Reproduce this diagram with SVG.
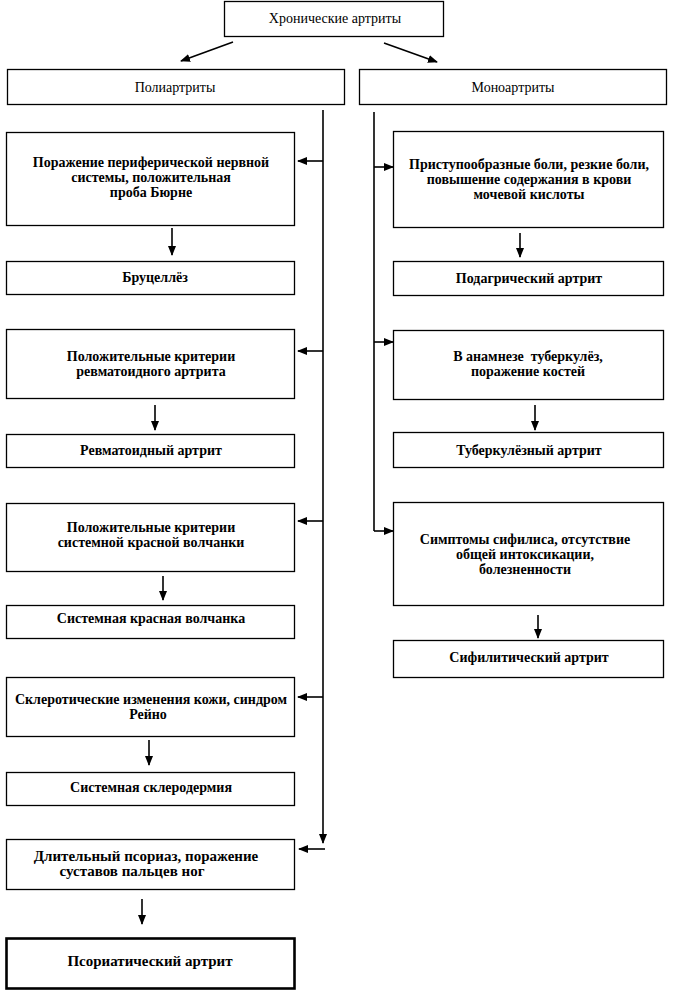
<svg xmlns="http://www.w3.org/2000/svg" width="676" height="995" viewBox="0 0 676 995">
<defs>
<marker id="ah" markerUnits="userSpaceOnUse" markerWidth="10" markerHeight="8" refX="9" refY="4" orient="auto">
<path d="M0,0 L10,4 L0,8 z" fill="#000"/>
</marker>
<style>
.box{fill:#fff;stroke:#000;stroke-width:1.3}
.thick{stroke-width:2.6}
.t{font-family:"Liberation Serif","Times New Roman",serif;font-size:14px;fill:#000;text-anchor:middle}
.b{font-weight:bold}
.big{font-size:15px}
.c{fill:none;stroke:#000;stroke-width:1.6}
.a{fill:none;stroke:#000;stroke-width:1.6;marker-end:url(#ah)}
</style>
</defs>
<rect width="676" height="995" fill="#fff"/>

<g id="n-root"><rect class="box" x="224.5" y="1.5" width="219" height="35"/><text class="t" x="335" y="23">Хронические артриты</text></g>
<g id="n-poly"><rect class="box" x="7.5" y="69.5" width="337" height="35"/><text class="t" x="175" y="92">Полиартриты</text></g>
<g id="n-mono"><rect class="box" x="359.5" y="69.5" width="307" height="35"/><text class="t" x="513" y="92">Моноартриты</text></g>

<g id="n-l1"><rect class="box" x="6.5" y="132.5" width="288" height="93"/><text class="t b" x="151" y="167">Поражение периферической нервной</text><text class="t b" x="151" y="182">системы, положительная</text><text class="t b" x="151" y="197">проба Бюрне</text></g>
<g id="n-l2"><rect class="box" x="6.5" y="261.5" width="288" height="33"/><text class="t b" x="155" y="282">Бруцеллёз</text></g>
<g id="n-l3"><rect class="box" x="6.5" y="329.5" width="288" height="69"/><text class="t b" x="151" y="361">Положительные критерии</text><text class="t b" x="151" y="376">ревматоидного артрита</text></g>
<g id="n-l4"><rect class="box" x="6.5" y="434.5" width="288" height="33"/><text class="t b" x="151" y="455">Ревматоидный артрит</text></g>
<g id="n-l5"><rect class="box" x="6.5" y="503.5" width="288" height="68"/><text class="t b" x="151" y="532">Положительные критерии</text><text class="t b" x="151" y="547">системной красной волчанки</text></g>
<g id="n-l6"><rect class="box" x="6.5" y="605.5" width="288" height="33"/><text class="t b" x="151" y="623">Системная красная волчанка</text></g>
<g id="n-l7"><rect class="box" x="6.5" y="677.5" width="288" height="59"/><text class="t b" x="151" y="704">Склеротические изменения кожи, синдром</text><text class="t b" x="148" y="719">Рейно</text></g>
<g id="n-l8"><rect class="box" x="6.5" y="772.5" width="288" height="33"/><text class="t b" x="151" y="792">Системная склеродермия</text></g>
<g id="n-l9"><rect class="box" x="6.5" y="839.5" width="288" height="50"/><text class="t b big" x="146" y="861">Длительный псориаз, поражение</text><text class="t b big" x="132" y="876">суставов пальцев ног</text></g>
<g id="n-l10"><rect class="box thick" x="6.5" y="938.5" width="288" height="50"/><text class="t b big" x="150" y="966">Псориатический артрит</text></g>

<g id="n-r1"><rect class="box" x="393.5" y="131.5" width="270" height="96"/><text class="t b" x="529" y="169">Приступообразные боли, резкие боли,</text><text class="t b" x="529" y="184">повышение содержания в крови</text><text class="t b" x="529" y="199">мочевой кислоты</text></g>
<g id="n-r2"><rect class="box" x="393.5" y="261.5" width="270" height="34"/><text class="t b" x="529" y="283">Подагрический артрит</text></g>
<g id="n-r3"><rect class="box" x="393.5" y="330.5" width="270" height="69"/><text class="t b" x="528" y="361">В анамнезе&#160; туберкулёз,</text><text class="t b" x="528" y="376">поражение костей</text></g>
<g id="n-r4"><rect class="box" x="393.5" y="432.5" width="270" height="35"/><text class="t b" x="529" y="455">Туберкулёзный артрит</text></g>
<g id="n-r5"><rect class="box" x="393.5" y="502.5" width="270" height="103"/><text class="t b" x="525" y="544">Симптомы сифилиса, отсутствие</text><text class="t b" x="525" y="559">общей интоксикации,</text><text class="t b" x="525" y="574">болезненности</text></g>
<g id="n-r6"><rect class="box" x="393.5" y="640.5" width="270" height="37"/><text class="t b" x="529" y="662">Сифилитический артрит</text></g>

<g id="connectors">
<path class="a" d="M233,42 L181,61"/>
<path class="a" d="M384,43 L437,62"/>
<path class="a" d="M323,110 L323,843"/>
<path class="a" d="M323,161 L298,161"/>
<path class="a" d="M323,351 L298,351"/>
<path class="a" d="M323,521 L298,521"/>
<path class="a" d="M323,697 L298,697"/>
<path class="a" d="M325,849 L299,849"/>
<path class="a" d="M172,228 L172,255"/>
<path class="a" d="M155,405 L155,430"/>
<path class="a" d="M163,576 L163,600"/>
<path class="a" d="M149,740 L149,765"/>
<path class="a" d="M142,899 L142,924"/>
<path class="c" d="M374,112 L374,531"/>
<path class="a" d="M374,167 L393,167"/>
<path class="a" d="M374,342 L393,342"/>
<path class="a" d="M374,531 L393,531"/>
<path class="a" d="M520,233 L520,257"/>
<path class="a" d="M535,405 L535,430"/>
<path class="a" d="M538,615 L538,638"/>
</g>
</svg>
